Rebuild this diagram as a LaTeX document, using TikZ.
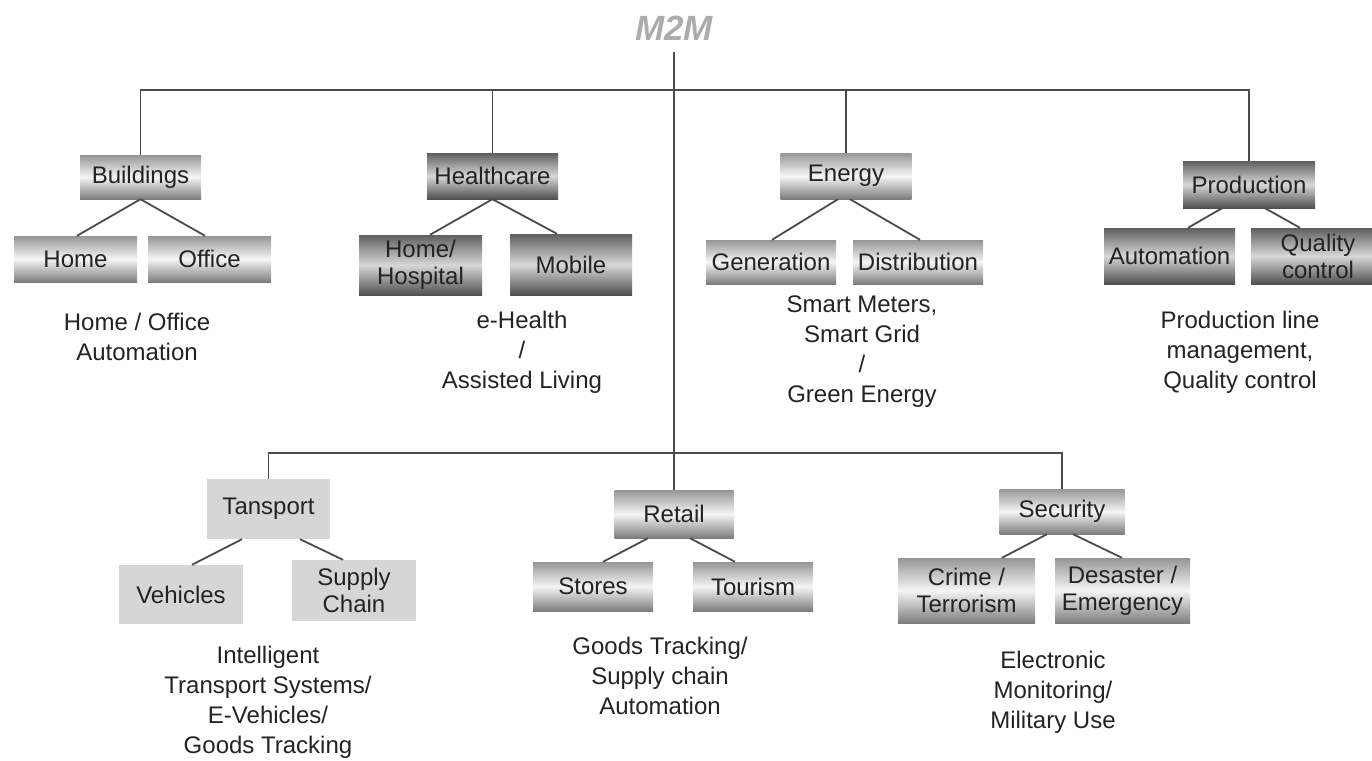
\documentclass[tikz,border=0pt]{standalone}
\usepackage{fontspec}
\setmainfont{Liberation Sans}
\definecolor{lnc}{RGB}{75,75,75}
\definecolor{txc}{RGB}{35,35,35}
\definecolor{flat}{RGB}{214,214,214}
\definecolor{mtop}{RGB}{150,150,150}
\definecolor{mmid}{RGB}{245,245,245}
\definecolor{mbot}{RGB}{125,125,125}
\definecolor{dtop}{RGB}{95,95,95}
\definecolor{dmid}{RGB}{215,215,215}
\definecolor{dbot}{RGB}{80,80,80}
\definecolor{mtc}{RGB}{172,172,172}
\tikzset{
  bx/.style 2 args={rectangle, inner sep=0pt, minimum width=#1pt, minimum height=#2pt, align=center, text=txc,
    font=\fontsize{24}{27}\selectfont},
  metal/.style={top color=mtop, bottom color=mbot, middle color=mmid},
  darkmetal/.style={top color=dtop, bottom color=dbot, middle color=dmid},
  flatbox/.style={fill=flat},
  desc/.style={align=center, text=txc, inner sep=0pt, font=\fontsize{24}{30}\selectfont},
  ln/.style={draw=lnc, line width=1.8pt},
}
\begin{document}
\begin{tikzpicture}[x=1pt,y=-1pt]
\useasboundingbox (0,0) rectangle (1372,760);
\node[text=mtc, font=\fontsize{35}{40}\selectfont\bfseries\itshape, inner sep=0pt] (m2m) at (674,28) {M2M};
% top level
\node[bx={121}{44}, metal] (bld) at (140.5,177) {Buildings};
\node[bx={131}{46}, darkmetal] (hc) at (492.5,176) {Healthcare};
\node[bx={131}{46}, metal] (en) at (846,176) {Energy};
\node[bx={132}{47}, darkmetal] (prod) at (1249,184.5) {Production};
% children top
\node[bx={123}{46}, metal] (home) at (75.5,259) {Home};
\node[bx={123}{46}, metal] (office) at (209.5,259) {Office};
\node[bx={123}{60}, darkmetal] (hh) at (420.5,265) {Home/\\Hospital};
\node[bx={122}{61}, darkmetal] (mob) at (571,264.5) {Mobile};
\node[bx={130}{44}, metal] (gen) at (771,262) {Generation};
\node[bx={130}{44}, metal] (dist) at (918,262) {Distribution};
\node[bx={131}{56}, darkmetal] (auto) at (1169.5,256) {Automation};
\node[bx={134}{56}, darkmetal] (qc) at (1318,256) {Quality\\control};
% descriptions top
\node[desc] (dbld) at (137,337) {Home / Office\\Automation};
\node[desc] (dhc) at (522,352) {e-Health\\/\\Assisted Living};
\node[desc] (den) at (862,352) {Smart Meters,\\Smart Grid\\/\\Green Energy};
\node[desc] (dprod) at (1240,352) {Production line\\management,\\Quality control};
% bottom level
\node[bx={123}{60}, flatbox] (tr) at (268.5,509) {Tansport};
\node[bx={119}{48}, metal] (ret) at (674,514) {Retail};
\node[bx={125}{45}, metal] (sec) at (1062,511.5) {Security};
\node[bx={124}{59}, flatbox] (veh) at (181,594.5) {Vehicles};
\node[bx={124}{61}, flatbox] (sc) at (354,590.5) {Supply\\Chain};
\node[bx={120}{49}, metal] (sto) at (593,586.5) {Stores};
\node[bx={120}{49}, metal] (tou) at (753,586.5) {Tourism};
\node[bx={137}{65}, metal] (cri) at (966.5,590.5) {Crime /\\Terrorism};
\node[bx={135}{65}, metal] (des) at (1122.5,590.5) {Desaster /\\Emergency};
\node[desc] (dtr) at (268,702) {Intelligent\\Transport Systems/\\E-Vehicles/\\Goods Tracking};
\node[desc] (dret) at (660,676) {Goods Tracking/\\Supply chain\\Automation};
\node[desc] (dsec) at (1053,692) {Electronic\\Monitoring/\\Military Use};
% buses
\coordinate (busT) at (674,90);
\coordinate (busB) at (674,453);
\draw[ln] ([yshift=-12pt]m2m.south) -- (ret.north);
\draw[ln] (bld.north) -- (bld.north |- busT) -| (prod.north);
\draw[ln] (hc.north) -- (hc.north |- busT);
\draw[ln] (en.north) -- (en.north |- busT);
\draw[ln] (tr.north) -- (tr.north |- busB) -| (sec.north);
% branches
\draw[ln] (bld.south) -- ([xshift=1.5pt]home.north);
\draw[ln] (bld.south) -- ([xshift=-4.5pt]office.north);
\draw[ln] (hc.south) -- ([xshift=9.5pt]hh.north);
\draw[ln] (hc.south) -- ([xshift=-14pt]mob.north);
\draw[ln] ([xshift=-8pt]en.south) -- ([xshift=1pt]gen.north);
\draw[ln] ([xshift=4pt]en.south) -- ([xshift=2pt]dist.north);
\draw[ln] ([xshift=-27pt]prod.south) -- ([xshift=18.5pt]auto.north);
\draw[ln] ([xshift=16pt]prod.south) -- ([xshift=-18pt]qc.north);
\draw[ln] ([xshift=-26.5pt]tr.south) -- ([xshift=11pt]veh.north);
\draw[ln] ([xshift=31.5pt]tr.south) -- ([xshift=-11pt]sc.north);
\draw[ln] ([xshift=-26pt]ret.south) -- ([xshift=10pt]sto.north);
\draw[ln] ([xshift=16pt]ret.south) -- ([xshift=-18pt]tou.north);
\draw[ln] ([xshift=-15pt]sec.south) -- ([xshift=35.5pt]cri.north);
\draw[ln] ([xshift=11pt]sec.south) -- ([xshift=-0.5pt]des.north);
\end{tikzpicture}
\end{document}
